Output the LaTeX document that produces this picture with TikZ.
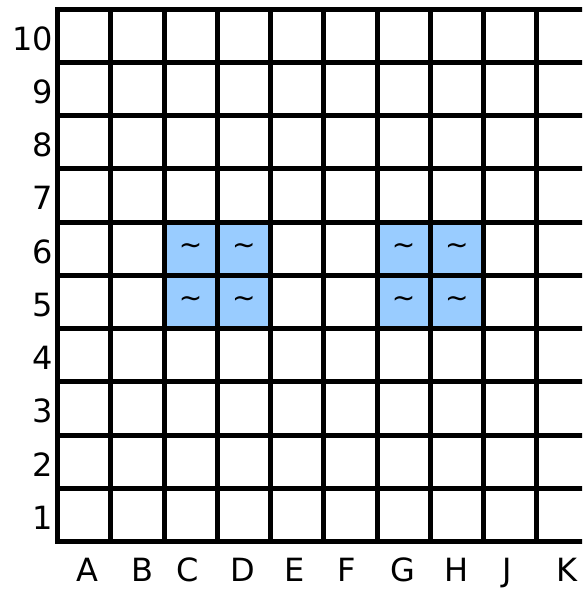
\documentclass[tikz,border=0pt]{standalone}
\usepackage{fontspec}
\setmainfont{DejaVu Sans}
\begin{document}
\begin{tikzpicture}[x=1pt,y=-1pt,
  gridline/.style={line width=5pt,black},
  water/.style={fill=watercol,draw=none},
  lab/.style={font=\fontsize{32}{32}\selectfont,inner sep=0pt},
  tilde/.style={font=\fontsize{28}{28}\selectfont,inner sep=0pt}]
\definecolor{watercol}{RGB}{153,204,255}
\useasboundingbox (0,0) rectangle (582,589);
\clip (0,0) rectangle (582,589);
\def\cs{53.25}
\def\xo{57.5}
\def\yo{9}
% water cells: columns C,D,G,H (index 2,3,6,7), rows 5,6 (row index from top 4,5)
\foreach \c in {2,3,6,7}{
  \foreach \r in {4,5}{
    \fill[water] ({\xo+\c*\cs},{\yo+\r*\cs}) rectangle ++(\cs,\cs);
    \node[tilde] (w\c\r) at ({\xo+(\c+0.5)*\cs},{\yo+(\r+0.5)*\cs}) {\symbol{"7E}};
  }
}
% grid
\foreach \i in {0,...,10}{
  \draw[gridline] ({\xo+\i*\cs},{\yo}) -- ({\xo+\i*\cs},{\yo+10*\cs});
  \draw[gridline] ({\xo-2.5},{\yo+\i*\cs}) -- ({\xo+10*\cs+3},{\yo+\i*\cs});
}
% row labels
\foreach \n [count=\r from 0] in {10,9,8,7,6,5,4,3,2,1}{
  \node[lab,anchor=base east] (row\n) at (53,{\yo+(\r+0.5)*\cs+14.5}) {\n};
}
% column labels
\foreach \l/\x in {A/87.5,B/142,C/188,D/242.5,E/295,F/347,G/403,H/457,J/507,K/567}{
  \node[lab,anchor=base] (col\l) at (\x,581) {\l};
}
\end{tikzpicture}
\end{document}
